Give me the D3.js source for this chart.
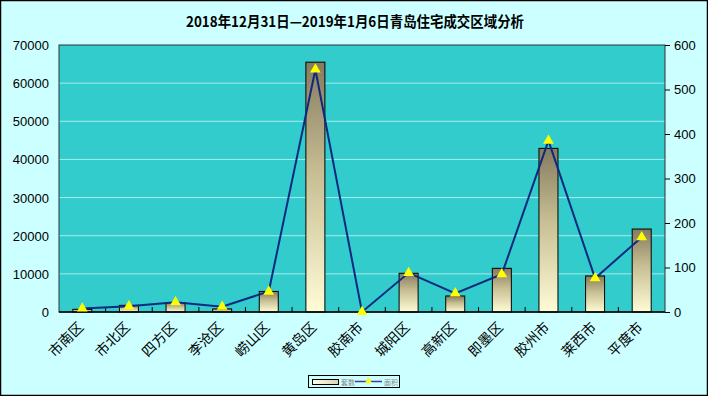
<!DOCTYPE html>
<html><head><meta charset="utf-8">
<script src="https://cdn.jsdelivr.net/npm/d3@7"></script>
<style>body{margin:0;background:#ccffff}svg{display:block}</style>
</head><body><svg id="c" width="708" height="396"></svg>
<script>
const categories = ["市南区","市北区","四方区","李沧区","崂山区","黄岛区","胶南市","城阳区","高新区","即墨区","胶州市","莱西市","平度市"];
const countValues = [700, 1750, 2450, 800, 5400, 65500, 0, 10150, 4200, 11450, 42900, 9450, 21750];
const areaValues = [8, 13, 22, 12, 46, 545, 0, 88, 42, 85, 385, 76, 168];
const leftTicks = [0,10000,20000,30000,40000,50000,60000,70000];
const rightTicks = [0,100,200,300,400,500,600];
const titleText = "2018年12月31日—2019年1月6日青岛住宅成交区域分析";
const legendLabels = ["套数","面积"];

const svg = d3.select("#c");
const W=708,H=396;
const m={l:59,r:665,t:45,b:312};

svg.append("rect").attr("x",0.5).attr("y",0.5).attr("width",W-1).attr("height",H-1)
  .attr("fill","#ccffff").attr("stroke","#000").attr("stroke-width",1.5);

const defs=svg.append("defs");
const g=defs.append("linearGradient").attr("id","bg").attr("x1",0).attr("y1",0).attr("x2",0).attr("y2",1);
g.append("stop").attr("offset","0%").attr("stop-color","#857b5f");
g.append("stop").attr("offset","45%").attr("stop-color","#c8bf94");
g.append("stop").attr("offset","100%").attr("stop-color","#fffcd6");
const g2=defs.append("linearGradient").attr("id","lg").attr("x1",0).attr("y1",0).attr("x2",1).attr("y2",0);
g2.append("stop").attr("offset","0%").attr("stop-color","#ffffe8");
g2.append("stop").attr("offset","100%").attr("stop-color","#d8d4b0");

svg.append("text").attr("x",355).attr("y",27).attr("text-anchor","middle")
  .attr("font-family","'Noto Sans CJK SC'").attr("font-weight","bold").attr("font-size",14.5)
  .attr("textLength",338).attr("lengthAdjust","spacingAndGlyphs").attr("fill","#000").text(titleText);

const x=d3.scaleBand().domain(categories).range([m.l,m.r]).padding(0);
const yL=d3.scaleLinear().domain([0,70000]).range([m.b,m.t]);
const yR=d3.scaleLinear().domain([0,600]).range([m.b,m.t]);

svg.append("rect").attr("x",m.l).attr("y",m.t).attr("width",m.r-m.l).attr("height",m.b-m.t).attr("fill","#33cccc");

// gridlines
svg.append("g").selectAll("line").data(leftTicks.filter(d=>d>0&&d<70000)).join("line")
  .attr("x1",m.l).attr("x2",m.r).attr("y1",d=>yL(d)).attr("y2",d=>yL(d))
  .attr("stroke","#a6ecec").attr("stroke-width",1);

// bars
svg.append("g").selectAll("rect").data(categories).join("rect")
  .attr("x",(d)=>x(d)+x.bandwidth()/2-9.5).attr("width",19)
  .attr("y",(d,i)=>yL(countValues[i])).attr("height",(d,i)=>m.b-yL(countValues[i]))
  .attr("fill","url(#bg)").attr("stroke","#000").attr("stroke-width",1)
  .attr("display",(d,i)=>countValues[i]>0?null:"none");

// frame
svg.append("rect").attr("x",m.l).attr("y",m.t).attr("width",m.r-m.l).attr("height",m.b-m.t)
  .attr("fill","none").attr("stroke","#333").attr("stroke-width",1);
svg.append("line").attr("x1",m.l).attr("x2",m.r).attr("y1",m.b).attr("y2",m.b).attr("stroke","#000").attr("stroke-width",1.5);

// x inner ticks
svg.append("g").selectAll("line").data(categories.slice(1)).join("line")
  .attr("x1",d=>x(d)).attr("x2",d=>x(d)).attr("y1",m.b).attr("y2",m.b-5).attr("stroke","#000");

// left axis labels
svg.append("g").selectAll("text").data(leftTicks).join("text")
  .attr("x",49).attr("y",d=>yL(d)+5).attr("text-anchor","end")
  .attr("font-family","'Liberation Sans',Arial").attr("font-size",13).attr("fill","#000").text(d=>d);

// right axis
const ra=svg.append("g").attr("transform",`translate(${m.r},0)`)
  .call(d3.axisRight(yR).tickValues(rightTicks).tickSize(5).tickPadding(4).tickFormat(d3.format("d")));
ra.select(".domain").remove();
ra.selectAll("line").attr("stroke","#000");
ra.selectAll("text").attr("font-family","'Liberation Sans',Arial").attr("font-size",13).attr("fill","#000");

// line
const line=d3.line().x((d,i)=>x(categories[i])+x.bandwidth()/2).y(d=>yR(d));
svg.append("path").datum(areaValues).attr("d",line).attr("fill","none").attr("stroke","#0d2a80").attr("stroke-width",2);
const tri=d3.symbol().type(d3.symbolTriangle).size(50);
svg.append("g").selectAll("path").data(areaValues).join("path")
  .attr("transform",(d,i)=>`translate(${x(categories[i])+x.bandwidth()/2},${yR(d)})`)
  .attr("d",tri).attr("fill","#ffff00");

// x labels
svg.append("g").selectAll("text").data(categories).join("text")
  .attr("transform",d=>`translate(${x(d)+x.bandwidth()/2+2},${m.b+16}) rotate(-45)`)
  .attr("text-anchor","end").attr("font-family","'Noto Sans CJK SC'").attr("font-size",14).attr("fill","#000").text(d=>d);

// legend
const lg=svg.append("g");
lg.append("rect").attr("x",308.5).attr("y",375.5).attr("width",91).attr("height",12).attr("fill","#ccffff").attr("stroke","#000");
lg.append("rect").attr("x",312.5).attr("y",379.5).attr("width",26).attr("height",5).attr("fill","url(#lg)").attr("stroke","#000");
lg.append("text").attr("x",341).attr("y",384.5).attr("font-family","'Noto Sans CJK SC'").attr("font-size",7).attr("fill","#888").text(legendLabels[0]);
lg.append("line").attr("x1",355).attr("x2",382).attr("y1",381.5).attr("y2",381.5).attr("stroke","#3b3f9f").attr("stroke-width",1.5);
lg.append("path").attr("transform","translate(368.5,381)").attr("d",d3.symbol().type(d3.symbolTriangle).size(22)).attr("fill","#ffff00");
lg.append("text").attr("x",384).attr("y",384.5).attr("font-family","'Noto Sans CJK SC'").attr("font-size",7).attr("fill","#888").text(legendLabels[1]);
</script></body></html>
